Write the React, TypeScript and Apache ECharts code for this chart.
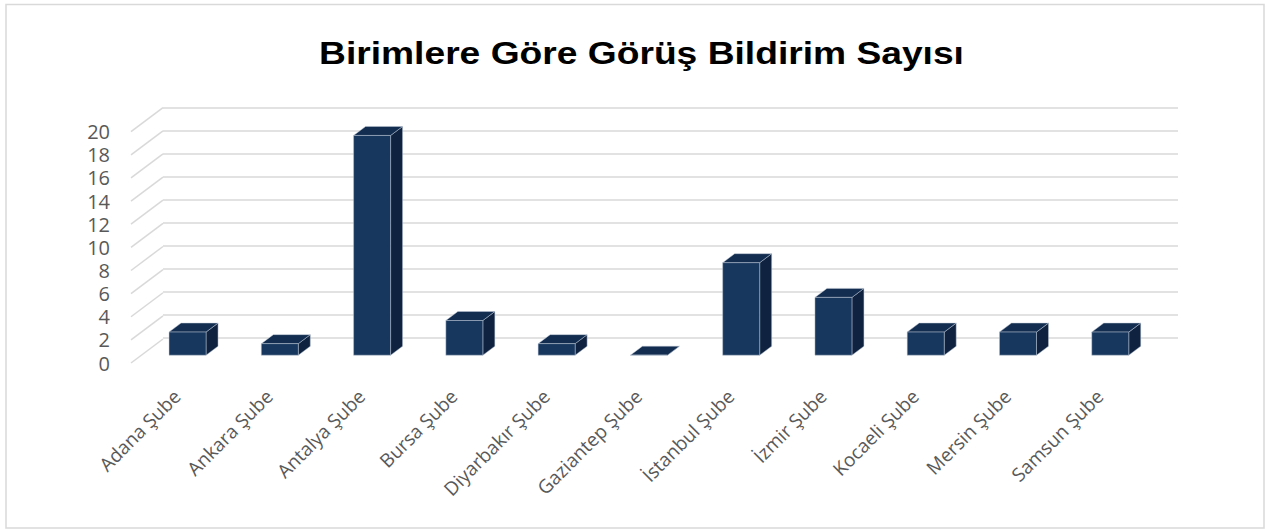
import React, { useEffect, useRef } from "react";
import * as echarts from "echarts";

const title = "Birimlere Göre Görüş Bildirim Sayısı";
const categories = [
  "Adana Şube",
  "Ankara Şube",
  "Antalya Şube",
  "Bursa Şube",
  "Diyarbakır Şube",
  "Gaziantep Şube",
  "İstanbul Şube",
  "İzmir Şube",
  "Kocaeli Şube",
  "Mersin Şube",
  "Samsun Şube",
];
const values = [2, 1, 19, 3, 1, 0, 8, 5, 2, 2, 2];
const yTicks = [0, 2, 4, 6, 8, 10, 12, 14, 16, 18, 20];

// oblique projection geometry (pixels)
const DEPTH_X = 32; // front plane -> back wall
const DEPTH_Y = -24;
const BAR_POS = 0.325; // bar front face position inside depth
const BAR_DEPTH = 0.375;
const BAR_W = 37;

const FRONT_COLOR = "#17375e";
const TOP_COLOR = "#132d50";
const SIDE_COLOR = "#0f2340";
const EDGE = "rgba(190,200,215,0.8)";

export default function App() {
  const ref = useRef<HTMLDivElement>(null);
  useEffect(() => {
    if (!ref.current) return;
    const chart = echarts.init(ref.current, null, { renderer: "svg" });
    const axisFont = "'Open Sans', 'Noto Sans', sans-serif";
    chart.setOption({
      animation: false,
      backgroundColor: "#ffffff",
      graphic: [
        {
          type: "rect",
          shape: { x: 6, y: 4.5, width: 1258, height: 523.5 },
          style: { fill: "none", stroke: "#d9d9d9", lineWidth: 1.5 },
          silent: true,
        },
        {
          type: "text",
          x: 641.5,
          y: 53,
          scaleX: 1.2,
          silent: true,
          style: {
            text: title,
            align: "center",
            verticalAlign: "middle",
            fontFamily: "'Liberation Sans', Arial, sans-serif",
            fontWeight: "bold",
            fontSize: 31,
            fill: "#000000",
          },
        },
      ],
      grid: [
        { left: 163, top: 107.7, width: 1015, height: 230.3 },
        { left: 131, top: 131.7, width: 1015, height: 231.3 },
      ],
      xAxis: [
        {
          gridIndex: 0,
          type: "category",
          data: categories,
          show: false,
        },
        {
          gridIndex: 1,
          type: "category",
          data: categories,
          axisLine: { show: false },
          axisTick: { show: false },
          axisLabel: {
            rotate: 45,
            interval: 0,
            margin: 30,
            fontSize: 19,
            color: "#595959",
            fontFamily: axisFont,
          },
        },
      ],
      yAxis: [
        {
          gridIndex: 0,
          type: "value",
          min: 0,
          max: 20,
          interval: 2,
          axisLine: { show: false },
          axisTick: { show: false },
          axisLabel: { show: false },
          splitLine: { show: true, lineStyle: { color: "#d9d9d9", width: 1.5 } },
        },
        {
          gridIndex: 1,
          type: "value",
          min: 0,
          max: 20,
          interval: 2,
          axisLine: { show: false },
          axisTick: { show: false },
          splitLine: { show: false },
          axisLabel: {
            margin: 21,
            fontSize: 20,
            lineHeight: 21,
            color: "#595959",
            fontFamily: axisFont,
          },
        },
      ],
      series: [
        {
          type: "custom",
          name: "diagonals",
          xAxisIndex: 1,
          yAxisIndex: 1,
          silent: true,
          data: yTicks.map((t) => [0, t]),
          renderItem: (params: any, api: any) => {
            const p = api.coord([0, api.value(1)]);
            const x0 = params.coordSys.x;
            return {
              type: "line",
              shape: { x1: x0, y1: p[1], x2: x0 + DEPTH_X, y2: p[1] + DEPTH_Y },
              style: { stroke: "#d9d9d9", lineWidth: 1.5 },
            };
          },
          z: 1,
        },
        {
          type: "custom",
          name: "Görüş Bildirim Sayısı",
          xAxisIndex: 1,
          yAxisIndex: 1,
          data: values.map((v, i) => [i, v]),
          renderItem: (params: any, api: any) => {
            const i = api.value(0);
            const v = api.value(1);
            const base = api.coord([i, 0]);
            const top = api.coord([i, v]);
            const ox = DEPTH_X * BAR_POS;
            const oy = DEPTH_Y * BAR_POS;
            const dx = DEPTH_X * BAR_DEPTH;
            const dy = DEPTH_Y * BAR_DEPTH;
            const xl = base[0] + ox - BAR_W / 2;
            const xr = xl + BAR_W;
            const yb = base[1] + oy;
            const yt = top[1] + oy;
            return {
              type: "group",
              children: [
                {
                  type: "polygon",
                  shape: {
                    points: [
                      [xr, yt],
                      [xr + dx, yt + dy],
                      [xr + dx, yb + dy],
                      [xr, yb],
                    ],
                  },
                  style: { fill: SIDE_COLOR, stroke: EDGE, lineWidth: 0.6 },
                },
                {
                  type: "polygon",
                  shape: {
                    points: [
                      [xl, yt],
                      [xr, yt],
                      [xr + dx, yt + dy],
                      [xl + dx, yt + dy],
                    ],
                  },
                  style: { fill: TOP_COLOR, stroke: EDGE, lineWidth: 0.6 },
                },
                {
                  type: "rect",
                  shape: { x: xl, y: yt, width: BAR_W, height: yb - yt },
                  style: { fill: FRONT_COLOR, stroke: EDGE, lineWidth: 0.6 },
                },
              ],
            };
          },
          z: 3,
        },
      ],
    });
    return () => chart.dispose();
  }, []);
  return (
    <div
      ref={ref}
      style={{ position: "absolute", left: 0, top: 0, width: 1269, height: 530 }}
    />
  );
}
